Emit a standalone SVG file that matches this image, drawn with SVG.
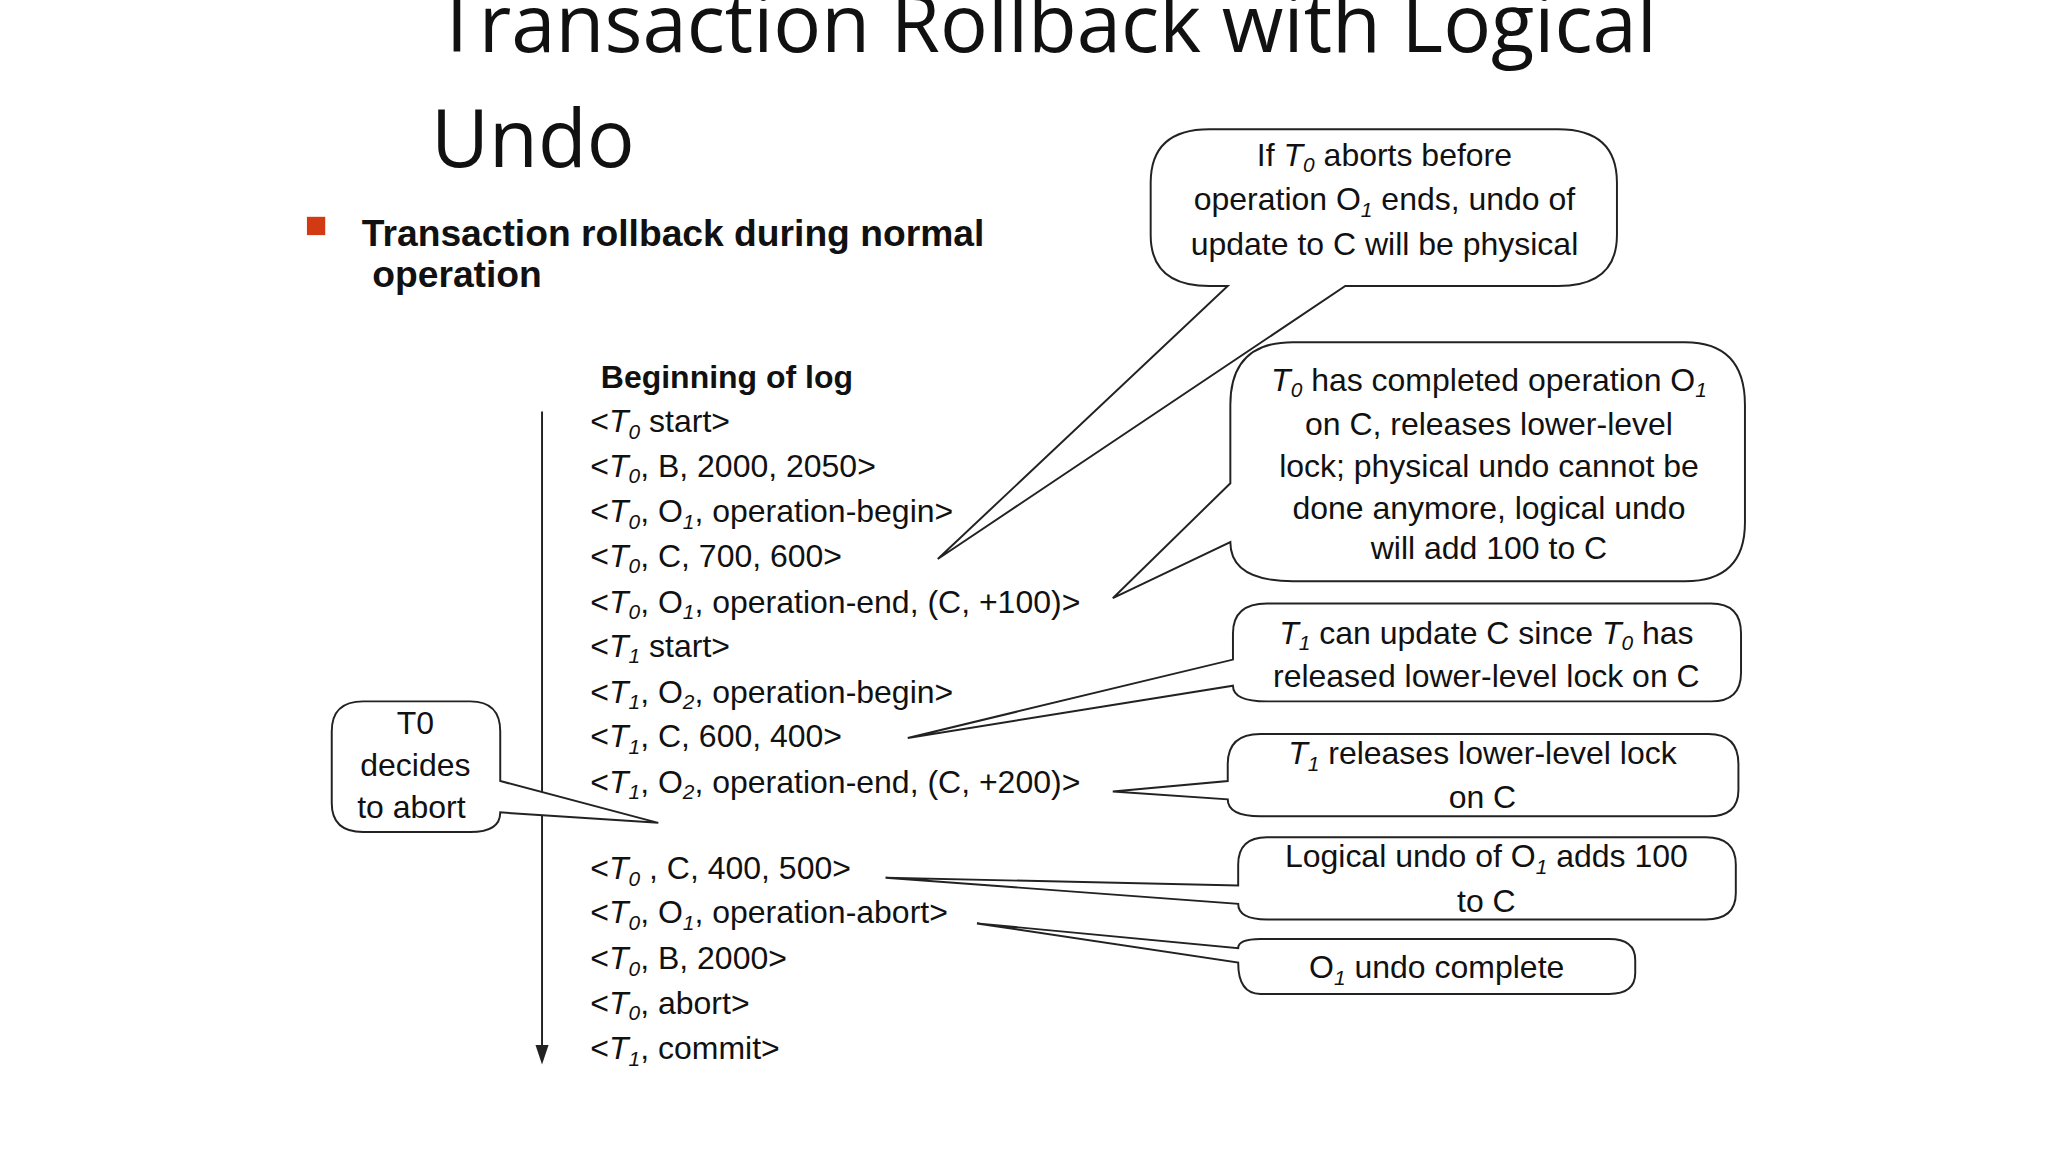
<svg xmlns="http://www.w3.org/2000/svg" width="2048" height="1152" viewBox="0 0 2048 1152">
<style>
.t{font-family:"Liberation Sans",Arial,sans-serif;font-size:24.5px;fill:#111}
.c{text-anchor:middle}
.b{fill:#fff;stroke:#222;stroke-width:1.5}
.ttl{font-family:"Open Sans","Noto Sans",sans-serif;font-size:61px;fill:#111}
</style>
<rect width="2048" height="1152" fill="#fff"/>
<g transform="scale(1.3061)">
<g id="title"><text class="ttl" x="333" y="40">Transaction Rollback with Logical</text><text class="ttl" x="330" y="128">Undo</text></g>
<g id="bullet"><rect x="235" y="166" width="14" height="14" fill="#d13a12"/><text class="t" style="font-size:28.5px;font-weight:bold" x="277" y="188">Transaction rollback during normal</text><text class="t" style="font-size:28.5px;font-weight:bold" x="285" y="220">operation</text></g>
<g id="connectors"><line x1="415" y1="315" x2="415" y2="812" stroke="#222" stroke-width="1.5"/><path d="M410,800 L415,815 L420,800 Z" fill="#222"/></g>
<g id="log" class="t">
<text x="460" y="297" style="font-weight:bold">Beginning of log</text>
<text x="452" y="331">&lt;<tspan font-style="italic">T<tspan dy="5" font-size="16">0</tspan></tspan><tspan dy="-5"> start&gt;</tspan></text>
<text x="452" y="365">&lt;<tspan font-style="italic">T<tspan dy="5" font-size="16">0</tspan></tspan><tspan dy="-5">, B, 2000, 2050&gt;</tspan></text>
<text x="452" y="400">&lt;<tspan font-style="italic">T<tspan dy="5" font-size="16">0</tspan></tspan><tspan dy="-5">, O</tspan><tspan dy="5" font-size="16" font-style="italic">1</tspan><tspan dy="-5">, operation-begin&gt;</tspan></text>
<text x="452" y="434">&lt;<tspan font-style="italic">T<tspan dy="5" font-size="16">0</tspan></tspan><tspan dy="-5">, C, 700, 600&gt;</tspan></text>
<text x="452" y="469">&lt;<tspan font-style="italic">T<tspan dy="5" font-size="16">0</tspan></tspan><tspan dy="-5">, O</tspan><tspan dy="5" font-size="16" font-style="italic">1</tspan><tspan dy="-5">, operation-end, (C, +100)&gt;</tspan></text>
<text x="452" y="503">&lt;<tspan font-style="italic">T<tspan dy="5" font-size="16">1</tspan></tspan><tspan dy="-5"> start&gt;</tspan></text>
<text x="452" y="538">&lt;<tspan font-style="italic">T<tspan dy="5" font-size="16">1</tspan></tspan><tspan dy="-5">, O</tspan><tspan dy="5" font-size="16" font-style="italic">2</tspan><tspan dy="-5">, operation-begin&gt;</tspan></text>
<text x="452" y="572">&lt;<tspan font-style="italic">T<tspan dy="5" font-size="16">1</tspan></tspan><tspan dy="-5">, C, 600, 400&gt;</tspan></text>
<text x="452" y="607">&lt;<tspan font-style="italic">T<tspan dy="5" font-size="16">1</tspan></tspan><tspan dy="-5">, O</tspan><tspan dy="5" font-size="16" font-style="italic">2</tspan><tspan dy="-5">, operation-end, (C, +200)&gt;</tspan></text>
<text x="452" y="673">&lt;<tspan font-style="italic">T<tspan dy="5" font-size="16">0</tspan></tspan><tspan dy="-5"> , C, 400, 500&gt;</tspan></text>
<text x="452" y="707">&lt;<tspan font-style="italic">T<tspan dy="5" font-size="16">0</tspan></tspan><tspan dy="-5">, O</tspan><tspan dy="5" font-size="16" font-style="italic">1</tspan><tspan dy="-5">, operation-abort&gt;</tspan></text>
<text x="452" y="742">&lt;<tspan font-style="italic">T<tspan dy="5" font-size="16">0</tspan></tspan><tspan dy="-5">, B, 2000&gt;</tspan></text>
<text x="452" y="776">&lt;<tspan font-style="italic">T<tspan dy="5" font-size="16">0</tspan></tspan><tspan dy="-5">, abort&gt;</tspan></text>
<text x="452" y="811">&lt;<tspan font-style="italic">T<tspan dy="5" font-size="16">1</tspan></tspan><tspan dy="-5">, commit&gt;</tspan></text>
</g>
<g id="n1"><path class="b" d="M926,99 H1193 Q1238,99 1238,140 V180 Q1238,219 1193,219 H1030 L718,428 L940,219 H926 Q881,219 881,180 V140 Q881,99 926,99 Z"/>
<text class="t c" x="1060" y="127">If <tspan font-style="italic">T<tspan dy="5" font-size="16">0</tspan></tspan><tspan dy="-5"> aborts before</tspan></text>
<text class="t c" x="1060" y="161">operation O<tspan dy="5" font-size="16" font-style="italic">1</tspan><tspan dy="-5"> ends, undo of</tspan></text>
<text class="t c" x="1060" y="195">update to C will be physical</text></g>
<g id="n2"><path class="b" d="M990,262 H1290 Q1336,262 1336,310 V400 Q1336,445 1290,445 H990 Q942,445 942,415 L852,458 L942,370 V310 Q942,262 990,262 Z"/>
<text class="t c" x="1140" y="299"><tspan font-style="italic">T<tspan dy="5" font-size="16">0</tspan></tspan><tspan dy="-5"> has completed operation O</tspan><tspan dy="5" font-size="16" font-style="italic">1</tspan></text>
<text class="t c" x="1140" y="333">on C, releases lower-level</text>
<text class="t c" x="1140" y="365">lock; physical undo cannot be</text>
<text class="t c" x="1140" y="397">done anymore, logical undo</text>
<text class="t c" x="1140" y="428">will add 100 to C</text></g>
<g id="n3"><path class="b" d="M970,462 H1310 Q1333,462 1333,485 V515 Q1333,537 1310,537 H970 Q944,537 944,525 L695,565 L944,505 V485 Q944,462 970,462 Z"/>
<text class="t c" x="1138" y="493"><tspan font-style="italic">T<tspan dy="5" font-size="16">1</tspan></tspan><tspan dy="-5"> can update C since </tspan><tspan font-style="italic">T<tspan dy="5" font-size="16">0</tspan></tspan><tspan dy="-5"> has</tspan></text>
<text class="t c" x="1138" y="526">released lower-level lock on C</text></g>
<g id="n4"><path class="b" d="M965,562 H1308 Q1331,562 1331,585 V605 Q1331,625 1308,625 H965 Q940,625 940,612 L852,606 L940,598 V585 Q940,562 965,562 Z"/>
<text class="t c" x="1135" y="585"><tspan font-style="italic">T<tspan dy="5" font-size="16">1</tspan></tspan><tspan dy="-5"> releases lower-level lock</tspan></text>
<text class="t c" x="1135" y="619">on C</text></g>
<g id="n5"><path class="b" d="M970,641 H1306 Q1329,641 1329,662 V684 Q1329,704 1306,704 H970 Q948,704 948,692 L678,672 L948,678 V662 Q948,641 970,641 Z"/>
<text class="t c" x="1138" y="664">Logical undo of O<tspan dy="5" font-size="16" font-style="italic">1</tspan><tspan dy="-5"> adds 100</tspan></text>
<text class="t c" x="1138" y="698">to C</text></g>
<g id="n6"><path class="b" d="M965,719 H1232 Q1252,719 1252,735 V745 Q1252,761 1232,761 H965 Q948,761 948,737 L748,707 L948,726 Q948,719 965,719 Z"/>
<text class="t c" x="1100" y="749">O<tspan dy="5" font-size="16" font-style="italic">1</tspan><tspan dy="-5"> undo complete</tspan></text></g>
<g id="n7"><path class="b" d="M278,537 H360 Q383,537 383,560 V598 L504,630 L383,622 Q383,637 360,637 H278 Q254,637 254,615 V560 Q254,537 278,537 Z"/>
<text class="t c" x="318" y="562">T0</text><text class="t c" x="318" y="594">decides</text><text class="t c" x="315" y="626">to abort</text></g>
</g>
</svg>
